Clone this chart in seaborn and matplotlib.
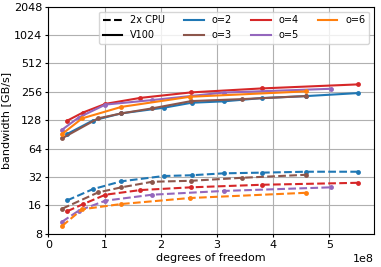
import seaborn as sns
import matplotlib.pyplot as plt
import matplotlib.ticker as mticker
from matplotlib.lines import Line2D
import pandas as pd

# degrees of freedom (in 1e8) per polynomial order
dof_o2 = [0.333, 0.791, 1.296, 2.053, 2.549, 3.119, 3.804, 4.594, 5.515]
dof_o3 = [0.244, 0.886, 1.301, 1.848, 2.544, 3.447, 4.594]
dof_o4 = [0.333, 0.613, 1.016, 1.640, 2.544, 3.804, 5.515]
dof_o5 = [0.244, 0.538, 1.016, 1.848, 3.119, 5.039]
dof_o6 = [0.244, 0.601, 1.301, 2.520, 4.588]

# bandwidth in GB/s, 2x CPU
cpu_o2 = [18.0, 23.7, 28.7, 32.7, 33.3, 34.9, 35.5, 36.3, 36.3]
cpu_o3 = [14.7, 21.9, 24.8, 28.4, 29.1, 31.3, 33.7]
cpu_o4 = [13.8, 16.4, 20.7, 23.2, 24.8, 26.4, 27.7]
cpu_o5 = [10.7, 14.0, 17.9, 20.7, 22.7, 24.8]
cpu_o6 = [9.65, 14.5, 16.5, 19.1, 21.7]

# bandwidth in GB/s, V100
gpu_o2 = [91.2, 126.8, 151.0, 173.3, 195.8, 202.6, 219.5, 230.5, 248.0]
gpu_o3 = [82.1, 133.7, 151.0, 170.7, 204.0, 214.0, 230.5]
gpu_o4 = [126.2, 154.0, 190.6, 220.6, 252.3, 278.0, 306.7]
gpu_o5 = [101.3, 136.4, 187.3, 209.0, 251.0, 275.5]
gpu_o6 = [91.2, 133.7, 177.0, 226.6, 258.6]

orders = ['o=2', 'o=3', 'o=4', 'o=5', 'o=6']
colors = ['#1f77b4', '#8c564b', '#d62728', '#9467bd', '#ff7f0e']
dofs = [dof_o2, dof_o3, dof_o4, dof_o5, dof_o6]
cpus = [cpu_o2, cpu_o3, cpu_o4, cpu_o5, cpu_o6]
gpus = [gpu_o2, gpu_o3, gpu_o4, gpu_o5, gpu_o6]

fig = plt.figure(figsize=(3.81, 2.67), dpi=100)
ax = fig.add_axes([0.127, 0.125, 0.855, 0.85])

for name, col, d, c, g in zip(orders, colors, dofs, cpus, gpus):
    x = [v * 1e8 for v in d]
    sns.lineplot(x=x, y=c, ax=ax, color=col, linestyle='--', marker='o',
                 markersize=3.5, markeredgewidth=0, linewidth=1.5)
    sns.lineplot(x=x, y=g, ax=ax, color=col, linestyle='-', marker='o',
                 markersize=3.5, markeredgewidth=0, linewidth=1.5)

ax.set_yscale('log', base=2)
ax.set_ylim(8, 2048)
ax.set_yticks([8, 16, 32, 64, 128, 256, 512, 1024, 2048])
ax.yaxis.set_major_formatter(mticker.ScalarFormatter())
ax.yaxis.set_minor_locator(mticker.NullLocator())
ax.set_xlim(0, 5.8e8)
ax.grid(True, color='#b0b0b0', linewidth=0.8)
ax.tick_params(labelsize=8, length=2.5, pad=2)
ax.xaxis.get_offset_text().set_fontsize(8)
ax.set_xlabel('degrees of freedom', fontsize=8, labelpad=2)
ax.set_ylabel('bandwidth [GB/s]', fontsize=8, labelpad=2)

handles = [Line2D([], [], color='black', linestyle='--', linewidth=1.5),
           Line2D([], [], color='black', linestyle='-', linewidth=1.5)]
labels = ['2x CPU', 'V100']
for name, col in zip(orders, colors):
    handles.append(Line2D([], [], color=col, linewidth=1.5))
    labels.append(name)
ax.legend(handles, labels, ncol=4, loc='upper right', fontsize=7)

plt.savefig('out.png', dpi=100)
plt.close()
